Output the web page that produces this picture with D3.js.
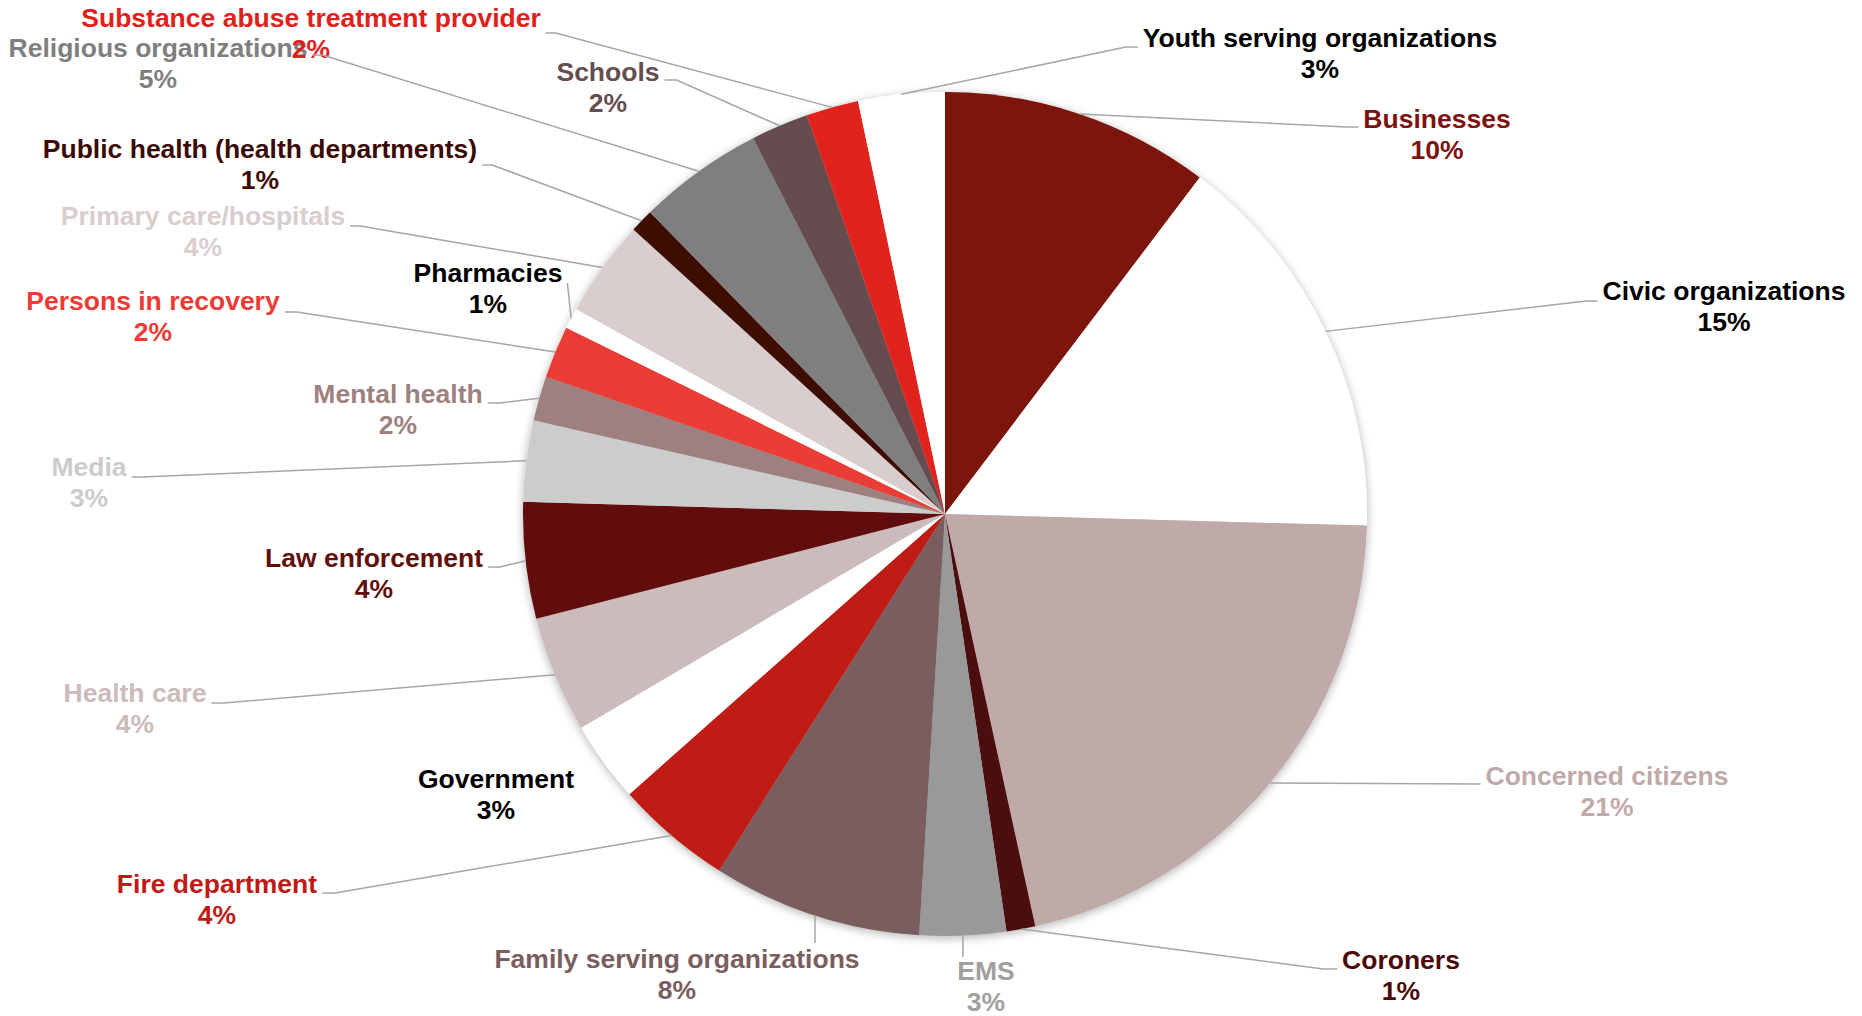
<!DOCTYPE html>
<html>
<head>
<meta charset="utf-8">
<script src="https://cdn.jsdelivr.net/npm/d3@7"></script>
<style>
  html, body { margin: 0; padding: 0; background: #ffffff; }
  svg { display: block; }
  text { font-family: "Liberation Sans", Arial, sans-serif; font-weight: bold; }
</style>
</head>
<body>
<script>
// ---- data ----
const categories = [
  "Businesses", "Civic organizations", "Concerned citizens", "Coroners", "EMS",
  "Family serving organizations", "Fire department", "Government", "Health care",
  "Law enforcement", "Media", "Mental health", "Persons in recovery", "Pharmacies",
  "Primary care/hospitals", "Public health (health departments)", "Religious organizations",
  "Schools", "Substance abuse treatment provider", "Youth serving organizations"
];
const values = [10.3, 15.1, 21.1, 1.1, 3.3, 8.0, 4.45, 3.1, 4.45, 4.45,
                3.1, 1.7, 2.0, 0.8, 3.7, 0.9, 4.8, 2.2, 2.0, 3.3];
const sliceColors = [
  "#7c130f", "#ffffff", "#bfaaa9", "#4c0909", "#999999",
  "#7a5d5e", "#bf1a15", "#ffffff", "#cbbbbb", "#620f0b",
  "#cccccc", "#9e8080", "#ea3c34", "#ffffff", "#d9cdcd",
  "#3d0906", "#7f7f7f", "#654e4f", "#e2201a", "#ffffff"
];
const labelColors = [
  "#7c130f", "#000000", "#bfaaa9", "#4c0909", "#a0a0a0",
  "#7a5d5e", "#bf1a15", "#000000", "#cbbbbb", "#620f0b",
  "#cccccc", "#9e8080", "#ea3c34", "#000000", "#d9cdcd",
  "#3d0906", "#7f7f7f", "#654e4f", "#e2201a", "#000000"
];

// ---- layout (label placement, not data) ----
// [centre x, first-line baseline y, leader side, leader attach y, elbow length]
const labelLayout = [
  [1437, 128, "L", 127, 12],
  [1724, 300, "L", 301, 11],
  [1607, 785, "L", 784, 0],
  [1401, 969, "L", 969, 14],
  [986, 980, "T", 957, 0],
  [677, 968, "T", 943, 0],
  [217, 893, "R", 893, 13],
  [496, 788, "N", 0, 0],
  [135, 702, "R", 703, 12],
  [374, 567, "R", 567, 12],
  [89, 476, "R", 477, 11],
  [398, 403, "R", 403, 12],
  [153, 310, "R", 312, 12],
  [488, 282, "R", 283, 0],
  [203, 225, "R", 226, 10],
  [260, 158, "R", 165, 10],
  [158, 57, "R", 55, 10],
  [608, 81, "R", 80, 12],
  [311, 27, "R", 33, 10],
  [1320, 47, "L", 47, 12]
];

const W = 1862, H = 1016;
const cx = 945, cy = 514, R = 422;
const fontSize = 26.5, lineGap = 31;

const svg = d3.select("body").append("svg").attr("width", W).attr("height", H);

const defs = svg.append("defs");
const f = defs.append("filter").attr("id", "shadow")
  .attr("x", "-10%").attr("y", "-10%").attr("width", "120%").attr("height", "120%");
f.append("feDropShadow").attr("dx", 0).attr("dy", 2).attr("stdDeviation", 5)
  .attr("flood-color", "#000").attr("flood-opacity", 0.3);

const pie = d3.pie().sort(null).value(d => d)(values);
const arc = d3.arc().innerRadius(0).outerRadius(R);
const total = d3.sum(values);

const gPie = svg.append("g").attr("transform", `translate(${cx},${cy})`);
const slices = gPie.append("g").attr("filter", "url(#shadow)");
slices.selectAll("path").data(pie).join("path")
  .attr("d", arc)
  .attr("fill", (d, i) => sliceColors[i]);

// labels
const gLab = svg.append("g");
const gLines = svg.append("g");

pie.forEach((d, i) => {
  const [lx, ly, side, ay, elbow] = labelLayout[i];
  const t = gLab.append("text")
    .attr("text-anchor", "middle")
    .attr("font-size", fontSize)
    .attr("fill", labelColors[i]);
  const t1 = t.append("tspan").attr("x", lx).attr("y", ly).text(categories[i]);
  t.append("tspan").attr("x", lx).attr("y", ly + lineGap)
    .text(Math.round(values[i] / total * 100) + "%");
  const w = t1.node().getComputedTextLength();

  const mid = (d.startAngle + d.endAngle) / 2;
  const ax = cx + R * Math.sin(mid), ayArc = cy - R * Math.cos(mid);
  let pts = null;
  if (side === "L") {
    const ex = lx - w / 2 - 5;
    pts = [[ax, ayArc], [ex - elbow, ay], [ex, ay]];
  } else if (side === "R") {
    const ex = lx + w / 2 + 5;
    pts = [[ax, ayArc], [ex + elbow, ay], [ex, ay]];
  } else if (side === "T") {
    pts = [[ax, ayArc], [ax, ay]];
  }
  if (pts) {
    gLines.append("path")
      .attr("d", d3.line()(pts))
      .attr("fill", "none")
      .attr("stroke", "#a6a6a6")
      .attr("stroke-width", 1.5);
  }
});
</script>
</body>
</html>
